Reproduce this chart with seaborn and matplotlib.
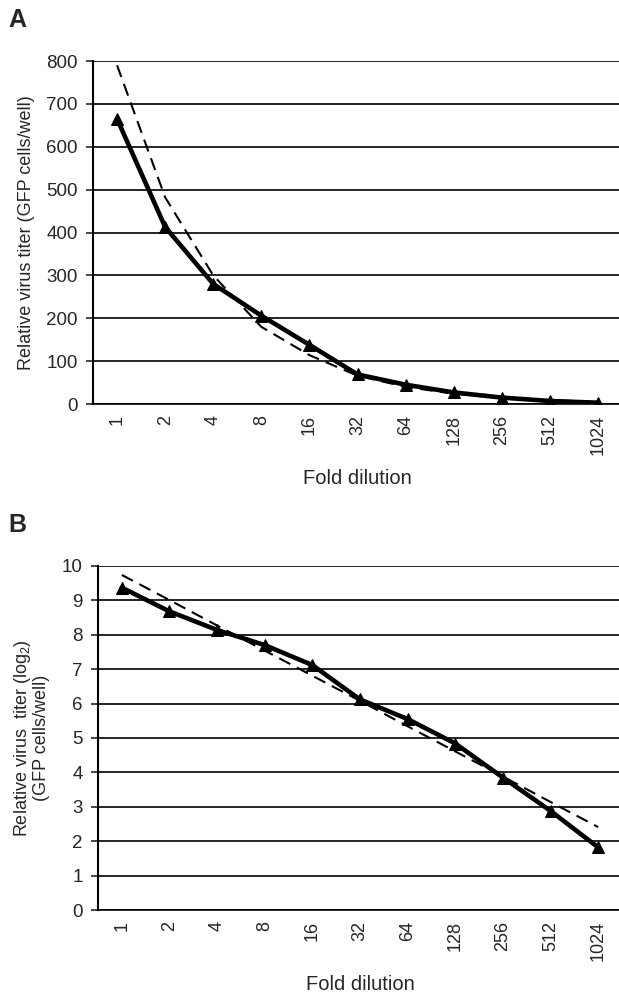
import matplotlib.pyplot as plt
import numpy as np
import seaborn as sns

# fold dilutions (categorical x axis)
dilutions = ["1", "2", "4", "8", "16", "32", "64", "128", "256", "512", "1024"]

# panel A: GFP cells/well, measured and fitted trend
titer_a = [665, 413, 280, 206, 138, 69, 45, 27, 15, 7, 3]
trend_a = [790, 482, 300, 180, 114, 66, 40, 24, 14, 9, 5]
yticks_a = [0, 100, 200, 300, 400, 500, 600, 700, 800]

# panel B: log2 titer, measured and linear trend
titer_b = [9.37, 8.68, 8.14, 7.70, 7.12, 6.12, 5.55, 4.84, 3.85, 2.88, 1.82]
trend_b = [9.74, 9.01, 8.27, 7.54, 6.81, 6.08, 5.34, 4.61, 3.88, 3.14, 2.41]
yticks_b = [0, 1, 2, 3, 4, 5, 6, 7, 8, 9, 10]

sns.set_style("white")
plt.rcParams["font.family"] = ["Liberation Sans", "DejaVu Sans"]
plt.rcParams["mathtext.default"] = "regular"

fig = plt.figure(figsize=(6.19, 9.96), dpi=100)
ax_a = fig.add_axes([93 / 619, 592 / 996, 529 / 619, 343 / 996])
ax_b = fig.add_axes([98 / 619, 86 / 996, 524 / 619, 344 / 996])

x = np.arange(len(dilutions))


def draw_panel(ax, measured, trend, yticks, ylabel, label_x, letter, letter_y):
    # dashed trend first, measured series on top
    sns.lineplot(x=x, y=trend, color="black", lw=1.5, linestyle=(0, (6, 3.5)), ax=ax, zorder=3)
    sns.lineplot(x=x, y=measured, color="black", lw=3.3, marker="^", markersize=9,
                 markeredgecolor="black", ax=ax, zorder=4)
    ax.set_xlim(-0.5, len(dilutions) - 0.5)
    ax.set_ylim(yticks[0], yticks[-1])
    ax.set_yticks(yticks)
    ax.set_xticks(x)
    ax.set_xticklabels(dilutions, rotation=90, fontsize=13)
    ax.tick_params(axis="y", labelsize=13.5, length=5, width=1.2, direction="out", left=True, pad=6)
    ax.tick_params(axis="x", length=0, pad=8)
    ax.yaxis.grid(True, color="black", lw=1.2)
    ax.set_axisbelow(True)
    for side in ["top", "right"]:
        ax.spines[side].set_visible(False)
    ax.spines["left"].set_color("black")
    ax.spines["left"].set_linewidth(1.5)
    ax.spines["bottom"].set_color("black")
    ax.spines["bottom"].set_linewidth(1.2)
    ax.set_xlabel("Fold dilution", fontsize=14.5, labelpad=10)
    ax.set_ylabel(ylabel, fontsize=13, linespacing=1.0)
    ax.yaxis.set_label_coords(label_x, 0.5)
    fig.text(8 / 619, letter_y, letter, fontsize=18, fontweight="bold", va="top")


draw_panel(ax_a, titer_a, trend_a, yticks_a,
           "Relative virus titer (GFP cells/well)", -0.11, "A", 1 - 8 / 996)
draw_panel(ax_b, titer_b, trend_b, yticks_b,
           "Relative virus  titer (log$_2$)\n(GFP cells/well)", -0.092, "B", 1 - 513 / 996)

fig.savefig("out.png", dpi=100)
